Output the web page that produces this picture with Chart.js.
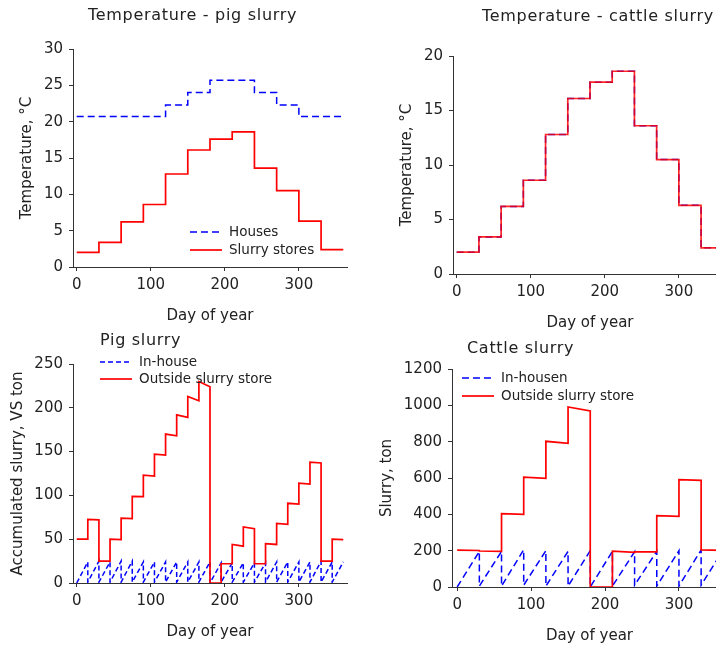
<!DOCTYPE html>
<html>
<head>
<meta charset="utf-8">
<script src="https://cdn.jsdelivr.net/npm/chart.js@4.4.1/dist/chart.umd.min.js"></script>
<style>
    html, body { margin: 0; padding: 0; background: #fff; overflow: hidden; }
    #page { position: relative; width: 716px; height: 648px; overflow: hidden; background: #fff; }
    canvas { position: absolute; }
    .panel-title {
        position: absolute;
        font-family: 'DejaVu Sans', Verdana, sans-serif;
        font-size: 16px;
        line-height: 16px;
        letter-spacing: 0.7px;
        color: #222;
        white-space: nowrap;
    }
</style>
</head>
<body>
<div id="page">
    <canvas id="tempPig" width="360" height="330" style="left:0;top:0"></canvas>
    <canvas id="tempCattle" width="380" height="337" style="left:360px;top:0"></canvas>
    <canvas id="slurryPig" width="360" height="316" style="left:0;top:330px"></canvas>
    <canvas id="slurryCattle" width="380" height="320" style="left:360px;top:330px"></canvas>
    <div class="panel-title" style="left:88px;top:7px">Temperature - pig slurry</div>
    <div class="panel-title" style="left:482px;top:8px">Temperature - cattle slurry</div>
    <div class="panel-title" style="left:100px;top:332px">Pig slurry</div>
    <div class="panel-title" style="left:467px;top:340px">Cattle slurry</div>
</div>
<script>
// Monthly temperatures (30-day periods)
const monthStartDays = [0, 30, 60, 90, 120, 150, 180, 210, 240, 270, 300, 330];
const pigHouseTemp = [20.7, 20.7, 20.7, 20.7, 22.3, 24.0, 25.7, 25.7, 24.0, 22.3, 20.7, 20.7];
const slurryStoreTemp = [2.0, 3.4, 6.2, 8.6, 12.8, 16.1, 17.6, 18.6, 13.6, 10.5, 6.3, 2.4];
const cattleHouseTemp = [2.0, 3.4, 6.2, 8.6, 12.8, 16.1, 17.6, 18.6, 13.6, 10.5, 6.3, 2.4];
const cattleStoreTemp = [2.0, 3.4, 6.2, 8.6, 12.8, 16.1, 17.6, 18.6, 13.6, 10.5, 6.3, 2.4];

// Pig slurry, 15-day periods (value at start and at end of each period)
const pigPeriodDays = [0, 15, 30, 45, 60, 75, 90, 105, 120, 135, 150, 165,
                       180, 195, 210, 225, 240, 255, 270, 285, 300, 315, 330, 345];
const pigHouseLow  = [0, 1, 1, 1, 1, 1, 1, 1, 1, 1, 1, 1, 0, 1, 1, 1, 1, 1, 1, 1, 1, 1, 1, 1];
const pigHouseHigh = [24, 25, 24, 25, 25, 24, 24, 24, 24, 24, 24, 24, 23, 23, 23, 23, 23, 24, 24, 24, 24, 25, 24, 24];
const pigStoreFirst = [50, 72.5, 25, 50, 74, 99, 123, 147, 170, 192, 213, 230, 0, 22, 44, 64, 22, 45, 68, 91, 114, 138, 25, 50];
const pigStoreLast  = [50, 72, 25, 49.5, 73.5, 98.5, 122, 146, 168, 189, 208, 224, 0, 22, 42, 62, 22, 44, 67, 90, 113, 137, 25, 49.5];

// Cattle slurry, 30-day periods
const cattleHouseLow  = [0, 5, 5, 10, 5, 5, 0, 5, 10, 5, 5, 10];
const cattleHouseHigh = [196, 196, 205, 200, 196, 200, 196, 194, 196, 200, 204, 205];
const cattleStoreFirst = [203, 198, 404, 605, 802, 991, 0, 198, 194, 393, 591, 204];
const cattleStoreLast  = [201, 196, 400, 598, 791, 969, 0, 191, 193, 389, 587, 202];

// Tick labels
const dayTicks = [0, 100, 200, 300];
const pigTempTicks = [0, 5, 10, 15, 20, 25, 30];
const cattleTempTicks = [0, 5, 10, 15, 20];
const pigSlurryTicks = [0, 50, 100, 150, 200, 250];
const cattleSlurryTicks = [0, 200, 400, 600, 800, 1000, 1200];

const FONT = "'DejaVu Sans', Verdana, sans-serif";
const INK = '#222';
const AXIS = '#333';
const RED = '#ff0000';
const BLUE = '#0000ff';

Chart.defaults.font.family = FONT;
Chart.defaults.color = INK;
Chart.defaults.animation = false;

// each period: a point at its start and one at its end
function periodPoints(starts, length, first, last) {
    return starts.flatMap((d, i) => [{ x: d, y: first[i] }, { x: d + length, y: last[i] }]);
}

// legend drawn inside the plot, at a set place of the canvas
const inlineLegend = {
    id: 'inlineLegend',
    afterDraw(chart, args, opts) {
        if (opts.x == null) return;
        const ctx = chart.ctx;
        ctx.save();
        chart.data.datasets.forEach((ds, i) => {
            const y = opts.y + i * opts.rowHeight;
            ctx.strokeStyle = ds.borderColor;
            ctx.lineWidth = ds.borderWidth;
            ctx.setLineDash(ds.borderDash || []);
            ctx.beginPath();
            ctx.moveTo(opts.x, y);
            ctx.lineTo(opts.x + opts.lineLength, y);
            ctx.stroke();
            ctx.setLineDash([]);
            ctx.fillStyle = INK;
            ctx.font = '13.5px ' + FONT;
            ctx.textBaseline = 'middle';
            ctx.fillText(ds.label, opts.x + opts.lineLength + 7, y);
        });
        ctx.restore();
    }
};

function makeChart(id, cfg) {
    const tickFont = { size: 15 };
    return new Chart(document.getElementById(id), {
        type: 'line',
        data: { datasets: cfg.datasets },
        options: {
            responsive: false,
            layout: { padding: { top: cfg.top, right: 13, left: 0, bottom: 0 } },
            elements: { point: { radius: 0 }, line: { tension: 0 } },
            plugins: {
                legend: { display: false },
                tooltip: { enabled: false },
                inlineLegend: cfg.legend || {}
            },
            scales: {
                x: {
                    type: 'linear',
                    min: cfg.xMin, max: 365,
                    afterBuildTicks: s => { s.ticks = dayTicks.map(v => ({ value: v })); },
                    afterFit: s => { s.height = 63; },
                    ticks: { font: tickFont, padding: 5, maxRotation: 0, callback: v => String(v) },
                    grid: { drawOnChartArea: false, drawTicks: true, tickLength: 4, color: AXIS },
                    border: { display: true, color: AXIS, width: 1 },
                    title: { display: true, text: 'Day of year', font: { size: 15 }, padding: { top: 0, bottom: 5 } }
                },
                y: {
                    min: cfg.yTicks[0], max: cfg.yTicks[cfg.yTicks.length - 1],
                    afterBuildTicks: s => { s.ticks = cfg.yTicks.map(v => ({ value: v })); },
                    afterFit: s => { s.width = cfg.yWidth; },
                    ticks: { font: tickFont, padding: 6, callback: v => String(v) },
                    grid: { drawOnChartArea: false, drawTicks: true, tickLength: 4, color: AXIS },
                    border: { display: true, color: AXIS, width: 1 },
                    title: { display: true, text: cfg.yTitle, font: { size: 15 }, padding: { top: cfg.yTitlePad, bottom: 0 } }
                }
            }
        },
        plugins: [inlineLegend]
    });
}

makeChart('tempPig', {
    top: 49, yWidth: 73, xMin: -5, yTicks: pigTempTicks,
    yTitle: 'Temperature, °C', yTitlePad: 18,
    legend: { x: 190, y: 232, rowHeight: 18, lineLength: 32 },
    datasets: [
        { label: 'Houses', data: periodPoints(monthStartDays, 30, pigHouseTemp, pigHouseTemp),
          borderColor: BLUE, borderWidth: 1.5, borderDash: [7, 4], order: 2 },
        { label: 'Slurry stores', data: periodPoints(monthStartDays, 30, slurryStoreTemp, slurryStoreTemp),
          borderColor: RED, borderWidth: 1.7, order: 1 }
    ]
});

makeChart('tempCattle', {
    top: 56, yWidth: 93, xMin: -5, yTicks: cattleTempTicks,
    yTitle: 'Temperature, °C', yTitlePad: 38,
    datasets: [
        { label: 'Houses', data: periodPoints(monthStartDays, 30, cattleHouseTemp, cattleHouseTemp),
          borderColor: BLUE, borderWidth: 1.5, borderDash: [7, 4], order: 2 },
        { label: 'Slurry stores', data: periodPoints(monthStartDays, 30, cattleStoreTemp, cattleStoreTemp),
          borderColor: 'rgba(255,0,0,0.85)', borderWidth: 1.7, order: 1 }
    ]
});

makeChart('slurryPig', {
    top: 34, yWidth: 73, xMin: -5, yTicks: pigSlurryTicks,
    yTitle: 'Accumulated slurry, VS ton', yTitlePad: 9,
    legend: { x: 100, y: 32, rowHeight: 17, lineLength: 32 },
    datasets: [
        { label: 'In-house', data: periodPoints(pigPeriodDays, 15, pigHouseLow, pigHouseHigh),
          borderColor: BLUE, borderWidth: 1.5, borderDash: [5, 3], order: 2 },
        { label: 'Outside slurry store', data: periodPoints(pigPeriodDays, 15, pigStoreFirst, pigStoreLast),
          borderColor: RED, borderWidth: 1.7, order: 1 }
    ]
});

makeChart('slurryCattle', {
    top: 39, yWidth: 92, xMin: -7, yTicks: cattleSlurryTicks,
    yTitle: 'Slurry, ton', yTitlePad: 18,
    legend: { x: 102, y: 48, rowHeight: 18, lineLength: 32 },
    datasets: [
        { label: 'In-housen', data: periodPoints(monthStartDays, 30, cattleHouseLow, cattleHouseHigh),
          borderColor: BLUE, borderWidth: 1.5, borderDash: [7, 4], order: 2 },
        { label: 'Outside slurry store', data: periodPoints(monthStartDays, 30, cattleStoreFirst, cattleStoreLast),
          borderColor: RED, borderWidth: 1.7, order: 1 }
    ]
});
</script>
</body>
</html>
